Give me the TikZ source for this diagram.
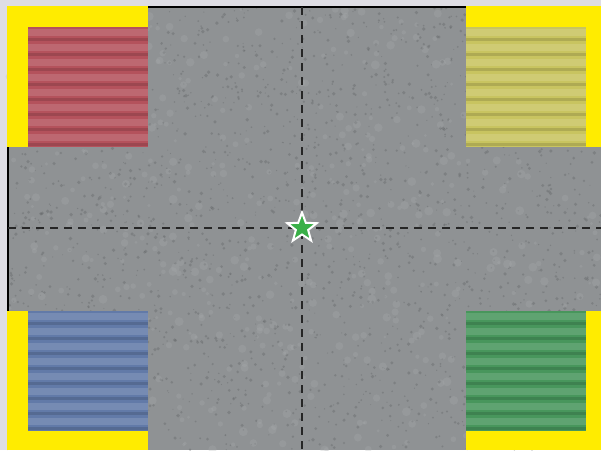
\documentclass[tikz,border=0pt]{standalone}
\usetikzlibrary{shapes.geometric}
\definecolor{paper}{RGB}{222,221,228}
\definecolor{concrete}{RGB}{143,146,148}
\definecolor{concretedark}{RGB}{100,103,105}
\definecolor{concretelight}{RGB}{172,175,177}
\definecolor{bandyellow}{RGB}{255,236,0}
\definecolor{tilered}{RGB}{180,82,92}
\definecolor{tileyellow}{RGB}{200,196,96}
\definecolor{tileblue}{RGB}{98,122,168}
\definecolor{tilegreen}{RGB}{72,150,92}
\definecolor{stargreen}{RGB}{58,176,72}
\tikzset{
  band/.style={fill=bandyellow},
  guide/.style={draw=black!85,line width=1.8pt,dash pattern=on 8pt off 6pt},
  ridge/.style={fill=white,opacity=0.13},
  groove/.style={fill=black,opacity=0.13}
}
% one corrugated tile
\newcommand{\tileat}[3]{%
  \fill[#3] (#1,#2) rectangle ++(120,120);
  \begin{scope}
    \clip (#1,#2) rectangle ++(120,120);
    \foreach \k in {0,...,7}{
      \fill[ridge] (#1,#2+\k*15+2) rectangle ++(120,7);
      \fill[groove] (#1,#2+\k*15+11) rectangle ++(120,3);
    }
  \end{scope}}
\begin{document}
\begin{tikzpicture}[x=1pt,y=-1pt]
\useasboundingbox (0,0) rectangle (601,450);
\fill[paper] (0,0) rectangle (601,450);
\fill[concrete] (8,7) rectangle (601,450);
% speckles of the concrete
\pgfmathsetseed{11}
\foreach \i in {1,...,2200}{
  \pgfmathsetmacro{\px}{8+593*rnd}
  \pgfmathsetmacro{\py}{7+443*rnd}
  \pgfmathsetmacro{\pr}{0.5+1.4*rnd}
  \fill[concretedark,opacity=0.4] (\px,\py) circle (\pr);
}
\foreach \i in {1,...,600}{
  \pgfmathsetmacro{\px}{8+593*rnd}
  \pgfmathsetmacro{\py}{7+443*rnd}
  \pgfmathsetmacro{\pr}{1.5+3*rnd}
  \fill[concretelight,opacity=0.25] (\px,\py) circle (\pr);
}
\draw[black,line width=1.4pt] (8,450) -- (8,7) -- (601,7);
% corner bands and tiles
\fill[band] (7,6) rectangle (148,147);
\tileat{28}{27}{tilered}
\fill[band] (466,6) rectangle (601,147);
\tileat{466}{27}{tileyellow}
\fill[band] (7,311) rectangle (148,450);
\tileat{28}{311}{tileblue}
\fill[band] (466,311) rectangle (601,450);
\tileat{466}{311}{tilegreen}
% centre lines
\coordinate (top) at (302,7);
\coordinate (bottom) at (302,450);
\coordinate (left) at (8,228);
\coordinate (right) at (601,228);
\draw[guide] (top) -- (bottom);
\draw[guide] (left) -- (right);
\node[star,star points=5,star point ratio=2.4,fill=stargreen,draw=white,
  line width=2pt,minimum size=31pt,inner sep=0pt] (centre) at (302,228) {};
\end{tikzpicture}
\end{document}
